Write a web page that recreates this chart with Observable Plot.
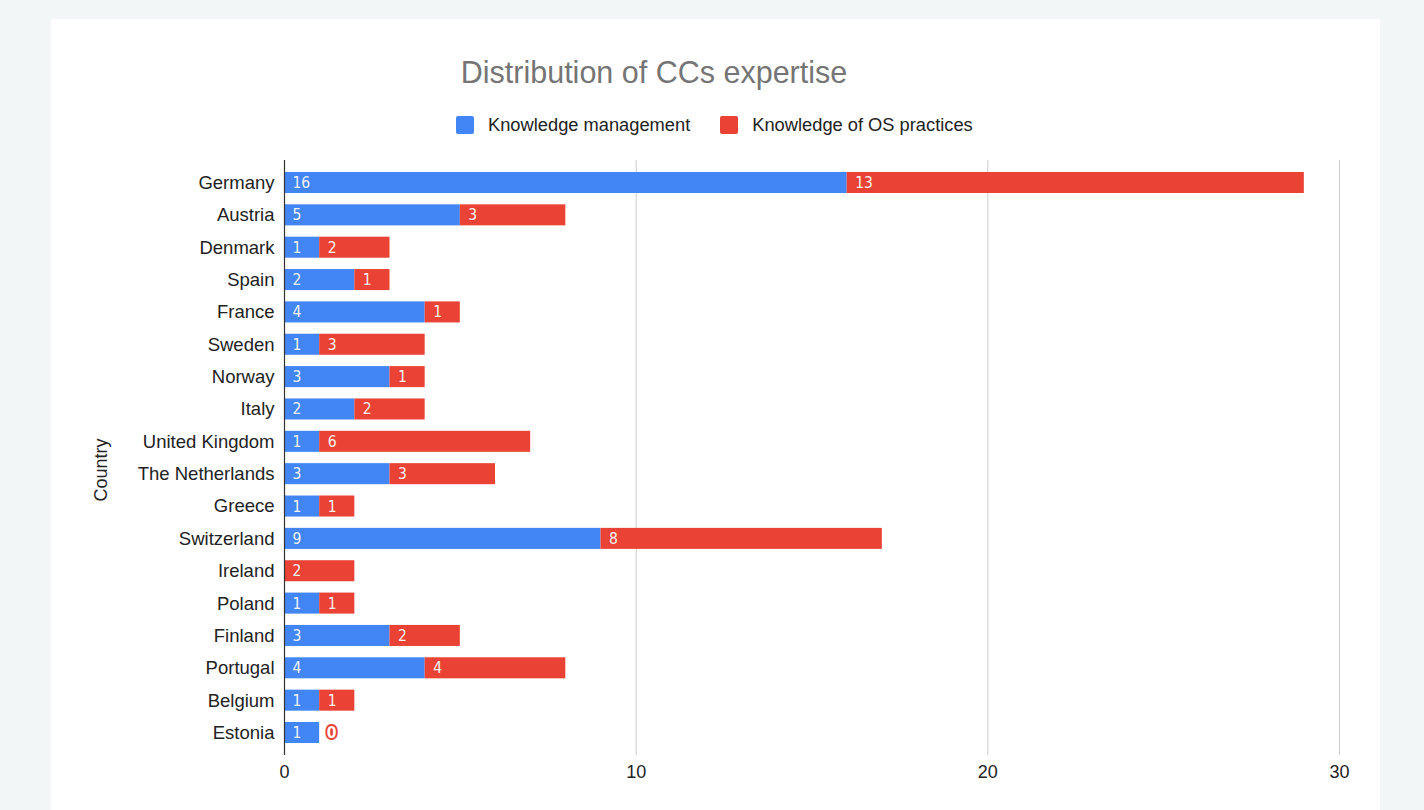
<!DOCTYPE html>
<html>
<head>
<meta charset="utf-8">
<script src="https://cdn.jsdelivr.net/npm/d3@7"></script>
<script src="https://cdn.jsdelivr.net/npm/@observablehq/plot@0.6"></script>
<style>
  html, body { margin: 0; padding: 0; background: #f3f6f7; width: 1424px; height: 810px; overflow: hidden; font-family: "Liberation Sans", Arial, sans-serif; }
  #card { position: absolute; left: 51px; top: 19px; width: 1329px; height: 800px; background: #ffffff; }
  #title { position: absolute; left: 0; width: 1308px; top: 55px; text-align: center; font-size: 30.5px; color: #757575; }
  #legend { position: absolute; top: 114px; left: 456px; font-size: 18.3px; color: #222; display: flex; align-items: center; }
  .sw { display: inline-block; width: 18px; height: 18px; border-radius: 2px; margin-right: 14px; }
  .item { display: flex; align-items: center; margin-right: 30px; }
  #ylabel { position: absolute; left: 101px; top: 470px; transform: translate(-50%, -50%) rotate(-90deg); font-size: 18px; color: #222; white-space: nowrap; }
  #chart { position: absolute; left: 0; top: 0; }
</style>
</head>
<body>
<div id="card"></div>
<div id="title">Distribution of CCs expertise</div>
<div id="legend"></div>
<div id="ylabel">Country</div>
<div id="chart"></div>
<script>
const countries = ["Germany","Austria","Denmark","Spain","France","Sweden","Norway","Italy","United Kingdom","The Netherlands","Greece","Switzerland","Ireland","Poland","Finland","Portugal","Belgium","Estonia"];
const knowledgeManagement = [16,5,1,2,4,1,3,2,1,3,1,9,0,1,3,4,1,1];
const knowledgeOS = [13,3,2,1,1,3,1,2,6,3,1,8,2,1,2,4,1,0];
const seriesNames = ["Knowledge management","Knowledge of OS practices"];
const seriesColors = ["#4285f4","#ea4335"];
const xTicks = [0,10,20,30];

const long = countries.flatMap((c, i) => [
  {country: c, series: seriesNames[0], value: knowledgeManagement[i]},
  {country: c, series: seriesNames[1], value: knowledgeOS[i]}
]);

// legend
const legend = document.getElementById("legend");
seriesNames.forEach((s, i) => {
  const it = document.createElement("span");
  it.className = "item";
  it.innerHTML = `<span class="sw" style="background:${seriesColors[i]}"></span>${s}`;
  legend.appendChild(it);
});

const labelFont = "'DejaVu Sans Condensed', 'Liberation Sans Narrow', sans-serif";

const plot = Plot.plot({
  width: 1424,
  height: 810,
  marginLeft: 284,
  marginRight: 85,
  marginTop: 160,
  marginBottom: 55,
  style: {background: "transparent", fontFamily: "'Liberation Sans', Arial, sans-serif", fontSize: "18px", color: "#222"},
  x: {domain: [0, 30], ticks: xTicks},
  y: {domain: countries, paddingInner: 0.35, paddingOuter: 0.37, round: false},
  color: {domain: seriesNames, range: seriesColors},
  marks: [
    Plot.ruleX(xTicks.filter(d => d > 0), {stroke: "#cccccc", strokeWidth: 1}),
    Plot.barX(long, Plot.stackX({y: "country", x: "value", fill: "series"})),
    Plot.ruleX([0], {stroke: "#333", strokeWidth: 1.2}),
    Plot.textX(long, Plot.stackX1({
      y: "country", x: "value", z: "series",
      text: d => d.value > 0 ? String(d.value) : null,
      textAnchor: "start", dx: 8, fill: "#f4f4f4", fontSize: 15.5, fontFamily: labelFont
    })),
    Plot.textX(long, Plot.stackX1({
      y: "country", x: "value", z: "series",
      text: d => (d.value === 0 && d.series === seriesNames[1]) ? String(d.value) : null,
      textAnchor: "start", dx: 7, fill: "white", stroke: "#ea4335", strokeWidth: 4, fontSize: 15.5, fontWeight: "bold", fontFamily: labelFont
    })),
    Plot.axisX({ticks: xTicks, tickSize: 0, tickPadding: 10, label: null, fontSize: 18}),
    Plot.axisY({tickSize: 0, tickPadding: 10, label: null, fontSize: 18.5})
  ]
});
document.getElementById("chart").appendChild(plot);
</script>
</body>
</html>
